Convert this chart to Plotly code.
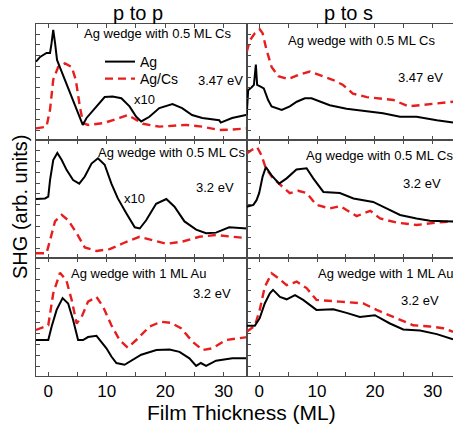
import plotly.graph_objects as go
from plotly.subplots import make_subplots

# ---------------- data (film thickness in ML, SHG in arbitrary units) ----------------
# p to p, Ag wedge with 0.5 ML Cs, 3.47 eV
pp347_ag_x = [-2.1, -1.4, -0.3, 0.3, 0.55, 0.85, 1.15, 1.5, 2.2, 3.2, 4.2, 5.0, 5.9, 6.55, 8.25, 9.65,
              11.0, 12.5, 13.9, 15.05, 15.9, 17.3, 19.0, 21.25, 22.9, 24.6, 26.35, 29.25, 29.5, 31.45, 33.8, 34.1]
pp347_ag_y = [0.675, 0.716, 0.75, 0.75, 0.83, 0.95, 0.84, 0.69, 0.60, 0.47, 0.34, 0.24, 0.13, 0.19, 0.29, 0.37,
              0.375, 0.36, 0.29, 0.20, 0.16, 0.20, 0.275, 0.31, 0.275, 0.215, 0.19, 0.17, 0.15, 0.19, 0.215, 0.215]
pp347_cs_x = [-2.1, -0.3, 0.3, 0.85, 1.7, 2.85, 4.0, 4.7, 5.4, 5.95, 6.8, 9.4, 12.2, 13.6, 14.5, 16.2,
              19.0, 23.6, 26.4, 29.25, 31.5, 34.1]
pp347_cs_y = [0.10, 0.115, 0.26, 0.52, 0.63, 0.66, 0.63, 0.52, 0.29, 0.145, 0.13, 0.145, 0.19, 0.215, 0.19, 0.14,
              0.115, 0.13, 0.115, 0.086, 0.09, 0.10]

# p to s, Ag wedge with 0.5 ML Cs, 3.47 eV
ps347_ag_x = [-2.15, -1.9, -1.3, -0.9, -0.57, -0.35, 0.25, 0.8, 1.55, 2.15, 3.9, 5.3, 6.5, 7.9, 9.05, 10.5,
              12.2, 15.1, 18.6, 21.4, 24.35, 27.2, 30.7, 33.5]
ps347_ag_y = [0.215, 0.43, 0.455, 0.475, 0.65, 0.475, 0.46, 0.445, 0.345, 0.29, 0.26, 0.29, 0.33, 0.36, 0.36, 0.33,
              0.30, 0.27, 0.245, 0.23, 0.20, 0.20, 0.17, 0.15]
ps347_cs_x = [-2.15, -1.6, -0.75, 0.1, 0.6, 1.28, 2.15, 3.3, 5.0, 6.75, 8.75, 10.5, 12.8, 14.5, 16.2, 18.6,
              20.9, 23.2, 25.8, 27.8, 31.3, 33.5]
ps347_cs_y = [0.76, 0.86, 0.92, 0.955, 0.92, 0.776, 0.63, 0.55, 0.525, 0.56, 0.59, 0.56, 0.517, 0.474, 0.40, 0.37,
              0.36, 0.345, 0.29, 0.30, 0.316, 0.33]

# p to p, Ag wedge with 0.5 ML Cs, 3.2 eV
pp32_ag_x = [-2.1, -0.56, 0.0, 0.3, 0.85, 1.55, 2.3, 3.15, 4.25, 5.3, 6.25, 7.4, 8.5, 9.65, 10.8, 11.9,
             13.35, 14.8, 15.65, 16.75, 18.45, 20.2, 21.6, 23.3, 25.3, 27.0, 28.7, 30.95, 34.1]
pp32_ag_y = [0.50, 0.505, 0.52, 0.66, 0.83, 0.89, 0.83, 0.745, 0.66, 0.63, 0.69, 0.80, 0.845, 0.79, 0.63, 0.505,
             0.38, 0.26, 0.25, 0.32, 0.46, 0.50, 0.435, 0.31, 0.24, 0.21, 0.215, 0.26, 0.25]
pp32_cs_x = [-2.1, -0.3, 0.3, 1.15, 2.3, 3.4, 4.85, 6.25, 8.25, 10.5, 12.8, 15.6, 17.9, 20.2, 23.0, 25.85,
             28.7, 31.5, 34.1]
pp32_cs_y = [0.04, 0.04, 0.15, 0.31, 0.365, 0.32, 0.21, 0.09, 0.06, 0.075, 0.125, 0.18, 0.15, 0.12, 0.14, 0.18,
             0.195, 0.18, 0.167]

# p to s, Ag wedge with 0.5 ML Cs, 3.2 eV
ps32_ag_x = [-2.15, -1.0, -0.45, 0.0, 0.6, 1.16, 2.15, 3.45, 4.75, 6.45, 8.2, 9.35, 11.1, 13.95, 16.3, 19.7,
             22.0, 24.35, 27.2, 29.5, 33.5]
ps32_ag_y = [0.435, 0.45, 0.49, 0.55, 0.69, 0.77, 0.70, 0.63, 0.675, 0.75, 0.76, 0.675, 0.56, 0.55, 0.505, 0.475,
             0.42, 0.365, 0.335, 0.315, 0.31]
ps32_cs_x = [-2.15, -1.3, -0.35, 0.4, 1.16, 2.4, 3.9, 5.3, 6.75, 8.2, 9.9, 12.2, 14.0, 16.85, 19.2, 20.9,
             23.8, 27.2, 30.7, 33.5]
ps32_cs_y = [0.885, 0.915, 0.94, 0.87, 0.76, 0.675, 0.61, 0.55, 0.57, 0.55, 0.45, 0.42, 0.44, 0.355, 0.40, 0.335,
             0.30, 0.28, 0.30, 0.31]

# p to p, Ag wedge with 1 ML Au, 3.2 eV
ppau_ag_x = [-2.1, 0.0, 0.58, 1.43, 2.45, 3.4, 4.25, 5.1, 5.95, 6.8, 8.25, 8.8, 9.95, 10.8, 11.65, 13.05,
             14.5, 15.9, 18.5, 20.75, 22.45, 24.15, 25.3, 26.1, 27.0, 28.7, 31.5, 34.1]
ppau_ag_y = [0.305, 0.305, 0.42, 0.56, 0.66, 0.615, 0.475, 0.305, 0.305, 0.33, 0.34, 0.305, 0.235, 0.165, 0.11, 0.095,
             0.135, 0.18, 0.22, 0.225, 0.205, 0.15, 0.085, 0.11, 0.085, 0.13, 0.15, 0.15]
ppau_au_x = [-2.1, 0.0, 0.85, 2.0, 3.1, 4.0, 4.85, 5.7, 6.8, 8.25, 9.4, 10.8, 12.2, 13.6, 15.05, 17.35,
             19.3, 21.0, 22.7, 24.7, 26.4, 28.1, 30.4, 34.1]
ppau_au_y = [0.39, 0.43, 0.70, 0.875, 0.81, 0.645, 0.445, 0.50, 0.63, 0.67, 0.585, 0.43, 0.305, 0.24, 0.305, 0.42,
             0.46, 0.45, 0.405, 0.29, 0.22, 0.235, 0.305, 0.33]

# p to s, Ag wedge with 1 ML Au, 3.2 eV
psau_ag_x = [-2.15, -0.75, 0.1, 0.97, 1.85, 2.4, 3.6, 4.75, 6.2, 7.6, 9.9, 12.8, 15.1, 17.4, 20.0, 22.6,
             24.9, 27.8, 30.7, 33.5]
psau_ag_y = [0.425, 0.425, 0.49, 0.615, 0.70, 0.73, 0.67, 0.65, 0.685, 0.645, 0.56, 0.565, 0.535, 0.50, 0.515, 0.445,
             0.395, 0.385, 0.355, 0.31]
psau_au_x = [-2.15, -0.75, 0.1, 0.97, 2.15, 3.3, 4.75, 6.5, 8.2, 9.9, 13.95, 18.0, 20.3, 23.2, 26.6, 29.5,
             31.8, 33.5]
psau_au_y = [0.375, 0.425, 0.56, 0.755, 0.87, 0.83, 0.77, 0.80, 0.745, 0.645, 0.63, 0.615, 0.56, 0.50, 0.43, 0.42,
             0.405, 0.375]

x_tickvals = [0, 5, 10, 15, 20, 25, 30]
x_ticktext = ["0", "", "10", "", "20", "", "30"]
col_titles = ["p to p", "p to s"]
legend_names = ["Ag", "Ag/Cs"]

panels = [
    (1, 1, pp347_ag_x, pp347_ag_y, pp347_cs_x, pp347_cs_y),
    (1, 2, ps347_ag_x, ps347_ag_y, ps347_cs_x, ps347_cs_y),
    (2, 1, pp32_ag_x, pp32_ag_y, pp32_cs_x, pp32_cs_y),
    (2, 2, ps32_ag_x, ps32_ag_y, ps32_cs_x, ps32_cs_y),
    (3, 1, ppau_ag_x, ppau_ag_y, ppau_au_x, ppau_au_y),
    (3, 2, psau_ag_x, psau_ag_y, psau_au_x, psau_au_y),
]

# ---------------- figure ----------------
W, H = 453, 426
FONT = "Liberation Sans, Arial, sans-serif"
RED = "rgb(232,30,30)"
AX = "#4a4a4a"

fig = make_subplots(rows=3, cols=2, horizontal_spacing=0, vertical_spacing=0)

for (r, c, ax_, ay_, bx_, by_) in panels:
    fig.add_trace(go.Scatter(x=bx_, y=by_, mode="lines", name=legend_names[1],
                             line=dict(color=RED, width=2.4, dash="8px,5px"),
                             showlegend=False), row=r, col=c)
    fig.add_trace(go.Scatter(x=ax_, y=ay_, mode="lines", name=legend_names[0],
                             line=dict(color="black", width=2),
                             showlegend=False), row=r, col=c)

# legend entries (each in its own legend box so their spacing can be matched)
fig.add_trace(go.Scatter(x=[None], y=[None], mode="lines", name=legend_names[0],
                         line=dict(color="black", width=2), legend="legend"), row=1, col=1)
fig.add_trace(go.Scatter(x=[None], y=[None], mode="lines", name=legend_names[1],
                         line=dict(color=RED, width=2.4, dash="8px,5px"), legend="legend2"), row=1, col=1)

px_x = lambda p: p / W
px_y = lambda p: (H - p) / H

xdom = {1: [px_x(36), px_x(247)], 2: [px_x(247), 1.0]}
ydom = {1: [px_y(140), px_y(24)], 2: [px_y(258), px_y(140)], 3: [px_y(376), px_y(258)]}
xrng = {1: [-2.1, 34.0], 2: [-2.1, 33.5]}

for r in (1, 2, 3):
    for c in (1, 2):
        fig.update_xaxes(row=r, col=c, domain=xdom[c], range=xrng[c],
                         showline=True, linecolor=AX, linewidth=1, mirror="allticks",
                         ticks="inside", ticklen=4, tickcolor=AX,
                         tickvals=x_tickvals, ticktext=x_ticktext,
                         showticklabels=(r == 3), showgrid=False, zeroline=False,
                         tickfont=dict(family=FONT, size=17, color="black"))
        fig.update_yaxes(row=r, col=c, domain=ydom[r], range=[0, 1],
                         showline=True, linecolor=AX, linewidth=1, mirror=(c == 1),
                         ticks="inside", ticklen=4, tickcolor=AX, tick0=0.08, dtick=0.0925,
                         showticklabels=False, showgrid=False, zeroline=False)

ann = []
def txt(x, y, s, size=13, xanchor="left"):
    ann.append(dict(x=px_x(x), y=px_y(y), xref="paper", yref="paper", text=s, showarrow=False,
                    xanchor=xanchor, yanchor="middle", font=dict(family=FONT, size=size, color="black")))

txt(138, 13, col_titles[0], 20, "center")
txt(348, 13, col_titles[1], 20, "center")
txt(82, 33, "Ag wedge with 0.5 ML Cs")
txt(196, 81, "3.47 eV")
txt(132, 100, "x10")
txt(286, 40, "Ag wedge with 0.5 ML Cs")
txt(396, 77, "3.47 eV")
txt(96, 153, "Ag wedge with 0.5 ML Cs")
txt(194, 187, "3.2 eV")
txt(122, 198, "x10")
txt(304, 155, "Ag wedge with 0.5 ML Cs")
txt(401, 183, "3.2 eV")
txt(69, 273, "Ag wedge with 1 ML Au")
txt(191, 293, "3.2 eV")
txt(316, 273, "Ag wedge with 1 ML Au")
txt(399, 300, "3.2 eV")
txt(242, 412, "Film Thickness (ML)", 21, "center")
ann.append(dict(x=px_x(20), y=px_y(207), xref="paper", yref="paper", text="SHG (arb. units)",
                showarrow=False, textangle=-90, xanchor="center", yanchor="middle",
                font=dict(family=FONT, size=20, color="black")))

leg_common = dict(xanchor="left", yanchor="top", bgcolor="rgba(0,0,0,0)",
                  font=dict(family=FONT, size=14, color="black"), itemwidth=30)

fig.update_layout(
    width=W, height=H, margin=dict(l=0, r=0, t=0, b=0),
    paper_bgcolor="white", plot_bgcolor="white",
    annotations=ann,
    showlegend=True,
    legend=dict(x=px_x(100), y=px_y(46), **leg_common),
    legend2=dict(x=px_x(100), y=px_y(63), **leg_common),
)

fig.write_html("out.html")
